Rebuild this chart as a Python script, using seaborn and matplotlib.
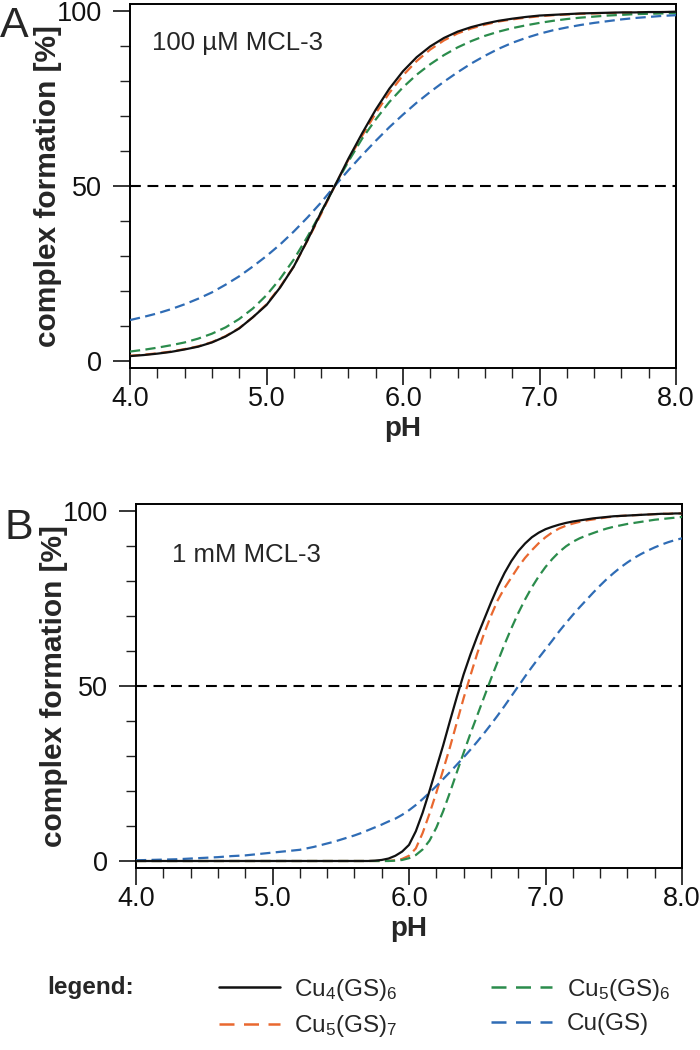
import numpy as np
import matplotlib
matplotlib.use("Agg")
import matplotlib.pyplot as plt
import seaborn as sns
from matplotlib.lines import Line2D
from matplotlib.ticker import MultipleLocator, FixedLocator, FormatStrFormatter

# ---------------- data ----------------
series_names = [r"Cu$_4$(GS)$_6$", r"Cu$_5$(GS)$_7$", r"Cu$_5$(GS)$_6$", r"Cu(GS)"]
series_colors = ["#111111", "#e9682f", "#2b8c4c", "#2f6cb5"]

# Panel A: 100 uM MCL-3, pH 4.0 .. 8.0 step 0.1
ph_a = np.round(np.arange(4.0, 8.0001, 0.1), 2)
a_cu4gs6 = [1.4, 1.7, 2.1, 2.6, 3.3, 4.1, 5.3, 7.0, 9.3, 12.5,
            16.0, 21.0, 27.0, 34.5, 42.5, 50.0, 57.8, 65.0, 71.8, 77.8,
            82.8, 86.8, 89.9, 92.3, 94.1, 95.4, 96.4, 97.2, 97.8, 98.3,
            98.7, 98.9, 99.1, 99.3, 99.4, 99.5, 99.6, 99.6, 99.7, 99.7, 99.8]
a_cu5gs7 = [1.5, 1.8, 2.2, 2.7, 3.4, 4.2, 5.4, 7.1, 9.4, 12.5,
            16.2, 21.2, 27.0, 34.4, 42.0, 50.0, 57.5, 64.3, 70.8, 76.6,
            81.6, 85.7, 89.0, 91.6, 93.6, 95.0, 96.1, 97.0, 97.6, 98.1,
            98.5, 98.8, 99.0, 99.2, 99.3, 99.4, 99.5, 99.6, 99.6, 99.7, 99.7]
a_cu5gs6 = [2.7, 3.2, 3.8, 4.5, 5.3, 6.4, 7.8, 9.6, 12.0, 15.0,
            18.8, 23.5, 29.0, 35.5, 42.5, 50.0, 57.0, 63.5, 69.0, 74.0,
            78.2, 81.8, 84.8, 87.4, 89.6, 91.4, 92.9, 94.1, 95.1, 95.9,
            96.6, 97.2, 97.7, 98.1, 98.4, 98.7, 98.9, 99.1, 99.2, 99.3, 99.4]
a_cugs = [11.7, 12.6, 13.6, 14.8, 16.2, 17.8, 19.6, 21.8, 24.2, 27.0,
          30.0, 33.3, 37.0, 41.0, 45.3, 50.0, 54.5, 58.8, 62.9, 66.8,
          70.4, 73.8, 76.9, 79.8, 82.5, 85.0, 87.2, 89.2, 90.9, 92.3,
          93.5, 94.5, 95.3, 96.0, 96.6, 97.1, 97.6, 98.0, 98.3, 98.6, 98.8]

# Panel B: 1 mM MCL-3, pH 4.00 .. 8.00 step 0.05
ph_b = np.round(np.arange(4.0, 8.0001, 0.05), 2)
b_cu4gs6 = [0.0, 0.0, 0.0, 0.0, 0.0, 0.0, 0.0, 0.0, 0.0, 0.0,
            0.0, 0.0, 0.0, 0.0, 0.0, 0.0, 0.0, 0.0, 0.0, 0.0,
            0.0, 0.0, 0.0, 0.0, 0.0, 0.0, 0.0, 0.0, 0.0, 0.0,
            0.0, 0.0, 0.0, 0.0,
            0.0, 0.1, 0.3, 0.7, 1.5, 2.7, 4.6, 8.5, 13.8, 20.0,
            26.5, 33.0, 40.0, 46.8, 53.3, 59.0, 64.2, 69.0, 73.8, 78.3,
            82.3, 85.7, 88.5, 90.7, 92.5, 93.8, 94.8, 95.5, 96.1, 96.6,
            97.0, 97.3, 97.6, 97.9, 98.1, 98.3, 98.5, 98.6, 98.7, 98.8,
            98.9, 99.0, 99.1, 99.2, 99.2, 99.3, 99.3]
b_cu5gs7 = [0.0, 0.0, 0.0, 0.0, 0.0, 0.0, 0.0, 0.0, 0.0, 0.0,
            0.0, 0.0, 0.0, 0.0, 0.0, 0.0, 0.0, 0.0, 0.0, 0.0,
            0.0, 0.0, 0.0, 0.0, 0.0, 0.0, 0.0, 0.0, 0.0, 0.0,
            0.0, 0.0, 0.0, 0.0,
            0.0, 0.0, 0.0, 0.05, 0.2, 0.6, 1.5, 3.6, 8.0, 13.5,
            19.5, 26.0, 32.5, 39.5, 46.5, 53.0, 59.3, 65.0, 70.0, 74.5,
            78.0, 81.0, 84.0, 86.6, 88.8, 90.8, 92.5, 93.9, 95.0, 95.8,
            96.4, 96.9, 97.3, 97.6, 97.9, 98.2, 98.4, 98.6, 98.7, 98.8,
            98.9, 99.0, 99.1, 99.2, 99.2, 99.3, 99.3]
b_cu5gs6 = [0.0, 0.0, 0.0, 0.0, 0.0, 0.0, 0.0, 0.0, 0.0, 0.0,
            0.0, 0.0, 0.0, 0.0, 0.0, 0.0, 0.0, 0.0, 0.0, 0.0,
            0.0, 0.0, 0.0, 0.0, 0.0, 0.0, 0.0, 0.0, 0.0, 0.0,
            0.0, 0.0, 0.0, 0.0,
            0.0, 0.0, 0.0, 0.0, 0.1, 0.3, 0.8, 1.7, 3.3, 5.8,
            9.5, 14.2, 19.6, 25.3, 30.9, 36.4, 41.6, 46.8, 52.0, 57.0,
            61.9, 66.5, 70.8, 74.7, 78.2, 81.3, 84.0, 86.3, 88.3, 89.9,
            91.2, 92.2, 93.0, 93.7, 94.4, 95.0, 95.5, 95.9, 96.3, 96.6,
            96.9, 97.2, 97.5, 97.7, 97.9, 98.1, 98.3]
b_cugs = [0.2, 0.25, 0.3, 0.35, 0.4, 0.45, 0.5, 0.6, 0.7, 0.8,
          0.9, 1.0, 1.1, 1.25, 1.4, 1.5, 1.6, 1.8, 2.0, 2.2,
          2.4, 2.6, 2.8, 3.0, 3.2, 3.6, 4.0, 4.5, 5.0, 5.5,
          6.1, 6.7, 7.3, 8.0, 8.8, 9.6, 10.4, 11.3,
          12.1, 13.2, 14.5, 16.0, 17.7, 19.5, 21.4, 23.4, 25.4, 27.5,
          29.6, 31.8, 34.1, 36.5, 39.0, 41.6, 44.3, 47.1, 49.9, 52.7,
          55.4, 58.0, 60.5, 63.0, 65.6, 68.0, 70.3, 72.5, 74.6, 76.7,
          78.7, 80.6, 82.3, 83.9, 85.3, 86.6, 87.7, 88.7, 89.6, 90.4,
          91.1, 91.7, 92.2]

panel_letters = ["A", "B"]
panel_notes = ["100 \u00b5M MCL-3", "1 mM MCL-3"]
x_ticks = [4.0, 5.0, 6.0, 7.0, 8.0]
y_ticks = [0, 50, 100]
half_level = 50
y_label = "complex formation [%]"
x_label = "pH"

# ---------------- style ----------------
sns.set_style("ticks")
plt.rcParams["font.family"] = ["Liberation Sans", "DejaVu Sans"]
plt.rcParams["mathtext.fontset"] = "custom"
plt.rcParams["mathtext.rm"] = "Liberation Sans"
plt.rcParams["mathtext.it"] = "Liberation Sans:italic"
plt.rcParams["mathtext.bf"] = "Liberation Sans:bold"

W, H = 700, 1050
fig = plt.figure(figsize=(7, 10.5), dpi=100)


def px_axes(left, top, right, bottom):
    return fig.add_axes([left / W, 1 - bottom / H, (right - left) / W, (bottom - top) / H])


axA = px_axes(130, 4, 676, 368)
axB = px_axes(136, 504, 682, 868)

dash_style = (0, (4.6, 2.4))
panels = [
    (axA, ph_a, [a_cu4gs6, a_cu5gs7, a_cu5gs6, a_cugs]),
    (axB, ph_b, [b_cu4gs6, b_cu5gs7, b_cu5gs6, b_cugs]),
]

for ax, ph, ys in panels:
    ax.axhline(half_level, color="black", lw=1.5, linestyle=(0, (5.2, 3.2)), zorder=1)
    for i, (vals, name, col) in enumerate(zip(ys, series_names, series_colors)):
        ls = "-" if i == 0 else dash_style
        sns.lineplot(x=ph, y=vals, ax=ax, color=col, linewidth=1.6,
                     linestyle=ls, zorder=5 if i == 0 else 3, legend=False)
    ax.set_xlim(4.0, 8.0)
    ax.set_ylim(-2, 102)
    ax.xaxis.set_major_locator(FixedLocator(x_ticks))
    ax.xaxis.set_minor_locator(MultipleLocator(0.2))
    ax.xaxis.set_major_formatter(FormatStrFormatter("%.1f"))
    ax.yaxis.set_major_locator(FixedLocator(y_ticks))
    ax.yaxis.set_minor_locator(MultipleLocator(10))
    ax.tick_params(axis="both", which="major", length=12, width=1.1,
                   direction="out", labelsize=19.5, color="black", labelcolor="#111111")
    ax.tick_params(axis="both", which="minor", length=7, width=1.0,
                   direction="out", color="#222222")
    ax.tick_params(axis="x", which="major", pad=0.8)
    ax.tick_params(axis="y", which="major", pad=8)
    for s in ax.spines.values():
        s.set_visible(True)
        s.set_linewidth(1.4)
        s.set_color("black")
    ax.set_ylabel(y_label, fontsize=21.5, fontweight="bold")
    ax.set_xlabel(x_label, fontsize=20, fontweight="bold")
    ax.yaxis.set_label_coords(-0.125, 0.5)
    ax.xaxis.set_label_coords(0.5, -0.132)

# panel letters and annotations
fig.text(0 / W, 1 - 37 / H, panel_letters[0], fontsize=31, va="baseline", ha="left")
fig.text(4 / W, 1 - 539 / H, panel_letters[1], fontsize=31, va="baseline", ha="left")
fig.text(152 / W, 1 - 50 / H, panel_notes[0], fontsize=18.5, va="baseline", ha="left")
fig.text(172 / W, 1 - 562 / H, panel_notes[1], fontsize=18.5, va="baseline", ha="left")

# legend
handles = []
for i, col in enumerate(series_colors):
    if i == 0:
        handles.append(Line2D([], [], color=col, lw=1.8, linestyle="-"))
    else:
        handles.append(Line2D([], [], color=col, lw=1.8, linestyle=(0, (6.0, 3.8))))
fig.legend(handles, series_names, ncol=2, loc="center left",
           bbox_to_anchor=(197 / W, 1 - 1008 / H), bbox_transform=fig.transFigure,
           frameon=False, fontsize=17.5, handlelength=2.5, handletextpad=0.6,
           columnspacing=3.85, labelspacing=0.45, borderpad=0.4)
fig.text(47 / W, 1 - 994 / H, "legend:", fontsize=17.5, fontweight="bold",
         va="baseline", ha="left")

fig.savefig("out.png", dpi=100)
